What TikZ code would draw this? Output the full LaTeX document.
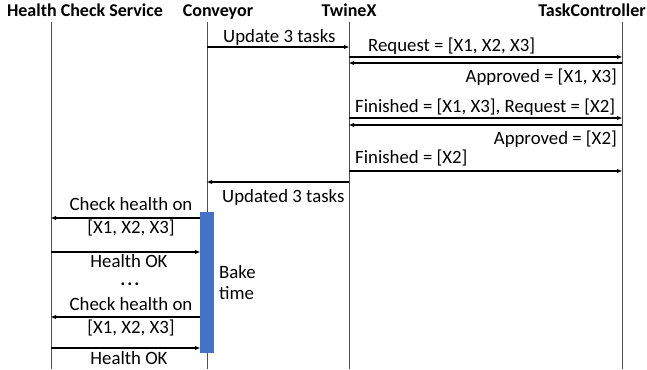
\documentclass[tikz,border=0pt]{standalone}
\usepackage{fontspec}
\setmainfont{Carlito}
\usetikzlibrary{arrows.meta}
\definecolor{barblue}{HTML}{4472C4}
\definecolor{lifegray}{HTML}{505050}
\begin{document}
\begin{tikzpicture}[x=1pt,y=-1pt,
  msg/.style={draw=black, line width=1.1pt, -{Triangle[length=5pt,width=3.6pt]}},
  life/.style={draw=lifegray, line width=0.9pt},
  lbl/.style={font=\fontsize{18.8}{20}\selectfont, inner sep=0pt},
  hdr/.style={font=\fontsize{18}{20}\selectfont\bfseries, inner sep=0pt, anchor=base}]
\useasboundingbox (0,0) rectangle (647,369);
% headers
\node[hdr] (hHCS) at (85,17) {Health Check Service};
\node[hdr] (hCon) at (218,17) {Conveyor};
\node[hdr] (hTw) at (349,17) {TwineX};
\node[hdr] (hTC) at (592,17) {TaskController};
% lifelines
\coordinate (hcsT) at (51,22);  \coordinate (hcsB) at (51,369);
\coordinate (conT) at (207,22); \coordinate (conB) at (207,369);
\coordinate (twT) at (349,22);  \coordinate (twB) at (349,369);
\coordinate (tcT) at (622,22);  \coordinate (tcB) at (622,369);
\draw[life] (hcsT) -- (hcsB);
\draw[life] (conT) -- (conB);
\draw[life] (twT) -- (twB);
\draw[life] (tcT) -- (tcB);
% bake bar
\node[fill=barblue, inner sep=0pt, minimum width=14pt, minimum height=141pt, anchor=north west] (bake) at (200,212) {};
% messages
\coordinate (m1a) at (207,47); \coordinate (m1b) at (349,47);
\draw[msg] (m1a) -- (m1b);
\node[lbl, anchor=base west] (l1) at (223,43) {Update 3 tasks};
\coordinate (m2a) at (349,57); \coordinate (m2b) at (622,57);
\draw[msg] (m2a) -- (m2b);
\node[lbl, anchor=base west] (l2) at (368,52) {Request = [X1, X2, X3]};
\coordinate (m3a) at (622,63); \coordinate (m3b) at (349,63);
\draw[msg] (m3a) -- (m3b);
\node[lbl, anchor=base east] (l3) at (617,82) {Approved = [X1, X3]};
\coordinate (m4a) at (349,118); \coordinate (m4b) at (622,118);
\draw[msg] (m4a) -- (m4b);
\node[lbl, anchor=base west] (l4) at (355,112) {Finished = [X1, X3], Request = [X2]};
\coordinate (m5a) at (622,125); \coordinate (m5b) at (349,125);
\draw[msg] (m5a) -- (m5b);
\node[lbl, anchor=base east] (l5) at (617,144) {Approved = [X2]};
\coordinate (m6a) at (349,171); \coordinate (m6b) at (622,171);
\draw[msg] (m6a) -- (m6b);
\node[lbl, anchor=base west] (l6) at (355,163) {Finished = [X2]};
\coordinate (m7a) at (349,182); \coordinate (m7b) at (207,182);
\draw[msg] (m7a) -- (m7b);
\node[lbl, anchor=base west] (l7) at (222,202) {Updated 3 tasks};
% health checks
\coordinate (h1a) at (200,218); \coordinate (h1b) at (51,218);
\draw[msg] (h1a) -- (h1b);
\node[lbl, anchor=base] (k1) at (131,210) {Check health on};
\node[lbl, anchor=base] (k2) at (131,233) {[X1, X2, X3]};
\coordinate (h2a) at (51,252); \coordinate (h2b) at (200,252);
\draw[msg] (h2a) -- (h2b);
\node[lbl, anchor=base, text depth=0pt] (k3) at (129,267) {Health OK};
\node[lbl, anchor=base, text height=3pt, text depth=0pt] (dots) at (130,285) {\textbf{.\kern2pt.\kern2pt.}};
\coordinate (h3a) at (200,317); \coordinate (h3b) at (51,317);
\draw[msg] (h3a) -- (h3b);
\node[lbl, anchor=base] (k4) at (131,310) {Check health on};
\node[lbl, anchor=base] (k5) at (131,333) {[X1, X2, X3]};
\coordinate (h4a) at (51,348); \coordinate (h4b) at (200,348);
\draw[msg] (h4a) -- (h4b);
\node[lbl, anchor=base] (k6) at (129,364) {Health OK};
\node[lbl, anchor=base west, align=left] (bt1) at (219,278) {Bake};
\node[lbl, anchor=base west] (bt2) at (219,299) {time};
\end{tikzpicture}
\end{document}
